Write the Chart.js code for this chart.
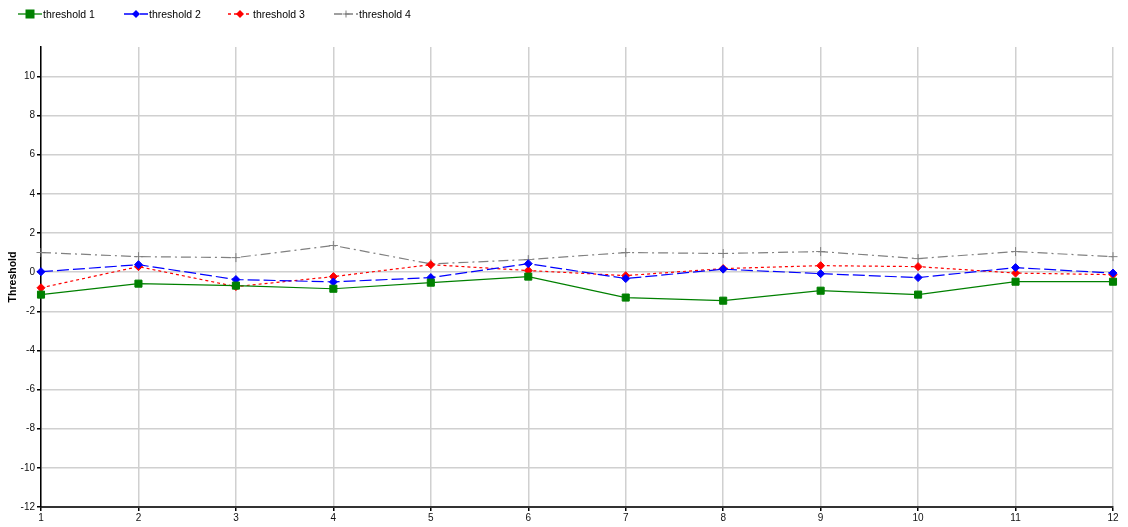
<!DOCTYPE html>
<html><head><meta charset="utf-8">
<script src="https://cdn.jsdelivr.net/npm/chart.js@4.4.1/dist/chart.umd.min.js"></script>
<style>
html,body{margin:0;padding:0;background:#fff;}
#wrap{position:relative;width:1128px;height:527px;}
#legend{position:absolute;left:0;top:0;height:28px;font-family:"Liberation Sans",Arial,sans-serif;font-size:10.5px;color:#000;}
.li{position:absolute;top:6px;height:16px;display:flex;align-items:center;white-space:nowrap;}
.li svg{display:block;margin-right:1px;}
</style></head>
<body><div id="wrap"><canvas id="c" width="1128" height="527"></canvas><div id="legend"></div></div>
<script>
const categories = ["1","2","3","4","5","6","7","8","9","10","11","12"];
const seriesNames = ["threshold 1","threshold 2","threshold 3","threshold 4"];
const threshold1 = [-1.15,-0.59,-0.69,-0.85,-0.54,-0.23,-1.30,-1.46,-0.95,-1.15,-0.49,-0.49];
const threshold2 = [0.02,0.38,-0.38,-0.50,-0.28,0.43,-0.33,0.15,-0.08,-0.28,0.23,-0.05];
const threshold3 = [-0.80,0.28,-0.74,-0.23,0.38,0.08,-0.18,0.18,0.33,0.28,-0.05,-0.13];
const threshold4 = [1.00,0.79,0.74,1.36,0.42,0.64,1.00,0.95,1.05,0.69,1.05,0.79];
const yTicks = [-12,-10,-8,-6,-4,-2,0,2,4,6,8,10];

const styles = [
  {color:'#008000', dash:[], point:'rect', r:5},
  {color:'#0000ff', dash:[12,4], point:'rectRot', r:4},
  {color:'#ff0000', dash:[3,3], point:'rectRot', r:4},
  {color:'#808080', dash:[10,4,2,4], point:'cross', r:4.5}
];
const values = [threshold1,threshold2,threshold3,threshold4];

// HTML legend
const legendPos = [18,124,228,334];
const lg = document.getElementById('legend');
seriesNames.forEach((n,i)=>{
  const s = styles[i];
  const d = document.createElement('div');
  d.className='li'; d.style.left=legendPos[i]+'px';
  let marker='';
  if(s.point==='rect') marker='<rect x="7.5" y="3.5" width="9" height="9" fill="'+s.color+'"/>';
  else if(s.point==='rectRot') marker='<polygon points="12,4 16,8 12,12 8,8" fill="'+s.color+'"/>';
  else marker='<path d="M12 4.5V11.5M8.5 8H15.5" stroke="'+s.color+'" stroke-width="1"/>';
  const da = s.dash.length? ' stroke-dasharray="'+(i===2?'3,3':(i===3?'8,3':'12,4'))+'"':'';
  d.innerHTML='<svg width="24" height="16"><line x1="0" y1="8" x2="24" y2="8" stroke="'+s.color+'" stroke-width="1.3"'+da+'/>'+marker+'</svg><span>'+n+'</span>';
  lg.appendChild(d);
});

const datasets = seriesNames.map((n,i)=>({
  label:n,
  data: values[i],
  borderColor: styles[i].color,
  backgroundColor: styles[i].color,
  borderWidth: 1.2,
  borderDash: styles[i].dash,
  pointStyle: styles[i].point,
  pointRadius: styles[i].r,
  pointHoverRadius: styles[i].r,
  pointBorderWidth: 1,
  tension: 0,
  fill: false
}));

new Chart(document.getElementById('c'), {
  type:'line',
  data:{labels:categories, datasets},
  options:{
    responsive:false, animation:false,
    devicePixelRatio:1,
    layout:{padding:{left:0,right:15,top:47,bottom:0}},
    plugins:{legend:{display:false}, tooltip:{enabled:false}},
    scales:{
      x:{
        type:'category', offset:false,
        grid:{color:'#d0d0d0', lineWidth:1.5, drawTicks:true, tickLength:4, tickColor:'#000'},
        border:{color:'#333', width:2},
        ticks:{color:'#111', font:{family:'"Liberation Sans",Arial,sans-serif', size:10}, padding:1, maxRotation:0, autoSkip:false},
        afterFit:(s)=>{s.height=20;}
      },
      y:{
        min:-12, max:11.5,
        afterBuildTicks:(s)=>{s.ticks = yTicks.map(v=>({value:v}));},
        grid:{color:'#d0d0d0', lineWidth:1.5, drawTicks:true, tickLength:4, tickColor:'#000'},
        border:{color:'#000', width:1.5},
        ticks:{color:'#111', font:{family:'"Liberation Sans",Arial,sans-serif', size:10}, padding:2},
        title:{display:true, text:'Threshold', color:'#000', font:{family:'"Liberation Sans",Arial,sans-serif', size:10.5, weight:'bold'}, padding:{top:7,bottom:0}},
        afterFit:(s)=>{s.width=41;}
      }
    }
  }
});
</script></body></html>
